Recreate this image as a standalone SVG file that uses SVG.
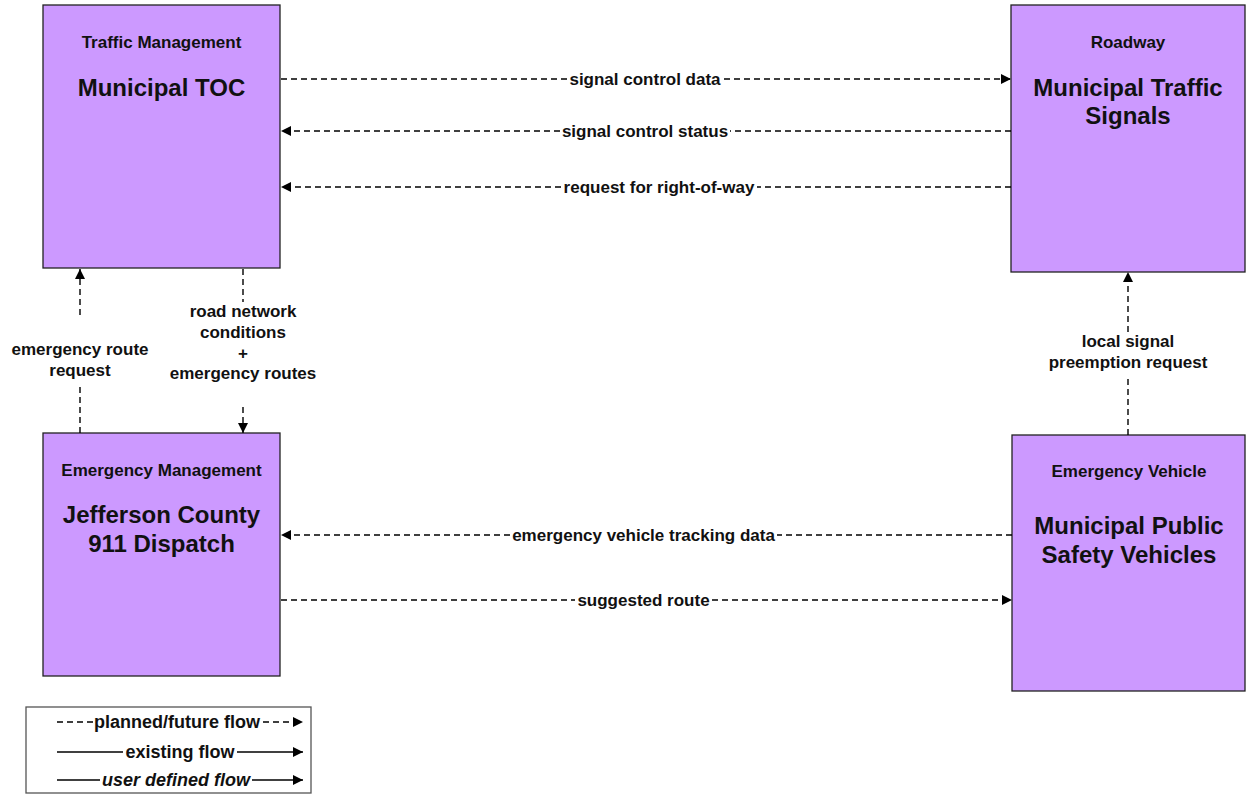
<svg xmlns="http://www.w3.org/2000/svg" width="1247" height="801" viewBox="0 0 1247 801">
<style>
.box{fill:#CC99FF;stroke:#222;stroke-width:1.3}
.cat{font-family:"Liberation Sans",Arial,sans-serif;font-weight:bold;font-size:17px;fill:#111;text-anchor:middle}
.name{font-family:"Liberation Sans",Arial,sans-serif;font-weight:bold;font-size:24px;fill:#111;text-anchor:middle}
.lbl{font-family:"Liberation Sans",Arial,sans-serif;font-weight:bold;font-size:17px;fill:#111;text-anchor:middle}
.leg{font-family:"Liberation Sans",Arial,sans-serif;font-weight:bold;font-size:18px;fill:#111;text-anchor:middle}
.dash{stroke:#000;stroke-width:1.4;stroke-dasharray:6,4;fill:none}
.solid{stroke:#000;stroke-width:1.4;fill:none}
</style>
<defs>
<marker id="arr" markerUnits="userSpaceOnUse" markerWidth="11" markerHeight="10" refX="10" refY="5" orient="auto">
<path d="M0,0 L10,5 L0,10 z" fill="#000"/>
</marker>
</defs>
<rect width="1247" height="801" fill="#fff"/>

<g id="node-municipal-toc">
<rect class="box" x="43" y="5" width="237" height="263"/>
<text class="cat" x="161.5" y="48">Traffic Management</text>
<text class="name" x="161.5" y="96">Municipal TOC</text>
</g>

<g id="node-municipal-traffic-signals">
<rect class="box" x="1011" y="5" width="234" height="267"/>
<text class="cat" x="1128" y="48">Roadway</text>
<text class="name" x="1128" y="96">Municipal Traffic</text>
<text class="name" x="1128" y="124">Signals</text>
</g>

<g id="node-jefferson-911">
<rect class="box" x="43" y="433" width="237" height="243"/>
<text class="cat" x="161.5" y="476">Emergency Management</text>
<text class="name" x="161.5" y="523">Jefferson County</text>
<text class="name" x="161.5" y="552">911 Dispatch</text>
</g>

<g id="node-public-safety-vehicles">
<rect class="box" x="1012" y="435" width="233" height="256"/>
<text class="cat" x="1129" y="477">Emergency Vehicle</text>
<text class="name" x="1129" y="534">Municipal Public</text>
<text class="name" x="1129" y="563">Safety Vehicles</text>
</g>

<g id="connectors">
<!-- signal control data -->
<line class="dash" x1="281" y1="79" x2="567" y2="79"/>
<line class="dash" x1="724" y1="79" x2="1011" y2="79" marker-end="url(#arr)"/>
<text class="lbl" x="645" y="85">signal control data</text>
<!-- signal control status -->
<line class="dash" x1="1011" y1="131" x2="730" y2="131"/>
<line class="dash" x1="560" y1="131" x2="281" y2="131" marker-end="url(#arr)"/>
<text class="lbl" x="645" y="137">signal control status</text>
<!-- request for right-of-way -->
<line class="dash" x1="1011" y1="187" x2="757" y2="187"/>
<line class="dash" x1="561" y1="187" x2="281" y2="187" marker-end="url(#arr)"/>
<text class="lbl" x="659" y="193">request for right-of-way</text>
<!-- emergency vehicle tracking data -->
<line class="dash" x1="1012" y1="535" x2="777" y2="535"/>
<line class="dash" x1="510" y1="535" x2="281" y2="535" marker-end="url(#arr)"/>
<text class="lbl" x="643.5" y="541">emergency vehicle tracking data</text>
<!-- suggested route -->
<line class="dash" x1="281" y1="600" x2="575" y2="600"/>
<line class="dash" x1="712" y1="600" x2="1012" y2="600" marker-end="url(#arr)"/>
<text class="lbl" x="643.5" y="606">suggested route</text>
<!-- emergency route request -->
<line class="dash" x1="80" y1="433" x2="80" y2="383"/>
<line class="dash" x1="80" y1="315" x2="80" y2="269" marker-end="url(#arr)"/>
<text class="lbl" x="80" y="355">emergency route</text>
<text class="lbl" x="80" y="376">request</text>
<!-- road network conditions + emergency routes -->
<line class="dash" x1="243" y1="269" x2="243" y2="302"/>
<line class="dash" x1="243" y1="407" x2="243" y2="433" marker-end="url(#arr)"/>
<text class="lbl" x="243" y="317">road network</text>
<text class="lbl" x="243" y="338">conditions</text>
<text class="lbl" x="243" y="359">+</text>
<text class="lbl" x="243" y="379">emergency routes</text>
<!-- local signal preemption request -->
<line class="dash" x1="1128" y1="435" x2="1128" y2="375"/>
<line class="dash" x1="1128" y1="332" x2="1128" y2="272" marker-end="url(#arr)"/>
<text class="lbl" x="1128" y="347">local signal</text>
<text class="lbl" x="1128" y="368">preemption request</text>
</g>

<g id="legend">
<rect x="26" y="707" width="285" height="86" fill="#fff" stroke="#555" stroke-width="1.3"/>
<line class="dash" x1="57" y1="722" x2="93" y2="722"/>
<text class="leg" x="177" y="728">planned/future flow</text>
<line class="dash" x1="263" y1="722" x2="303" y2="722" marker-end="url(#arr)"/>
<line class="solid" x1="57" y1="752" x2="123" y2="752"/>
<text class="leg" x="180" y="758">existing flow</text>
<line class="solid" x1="237" y1="752" x2="303" y2="752" marker-end="url(#arr)"/>
<line class="solid" x1="57" y1="780" x2="100" y2="780"/>
<text class="leg" x="176" y="786" font-style="italic">user defined flow</text>
<line class="solid" x1="252" y1="780" x2="303" y2="780" marker-end="url(#arr)"/>
</g>
</svg>
